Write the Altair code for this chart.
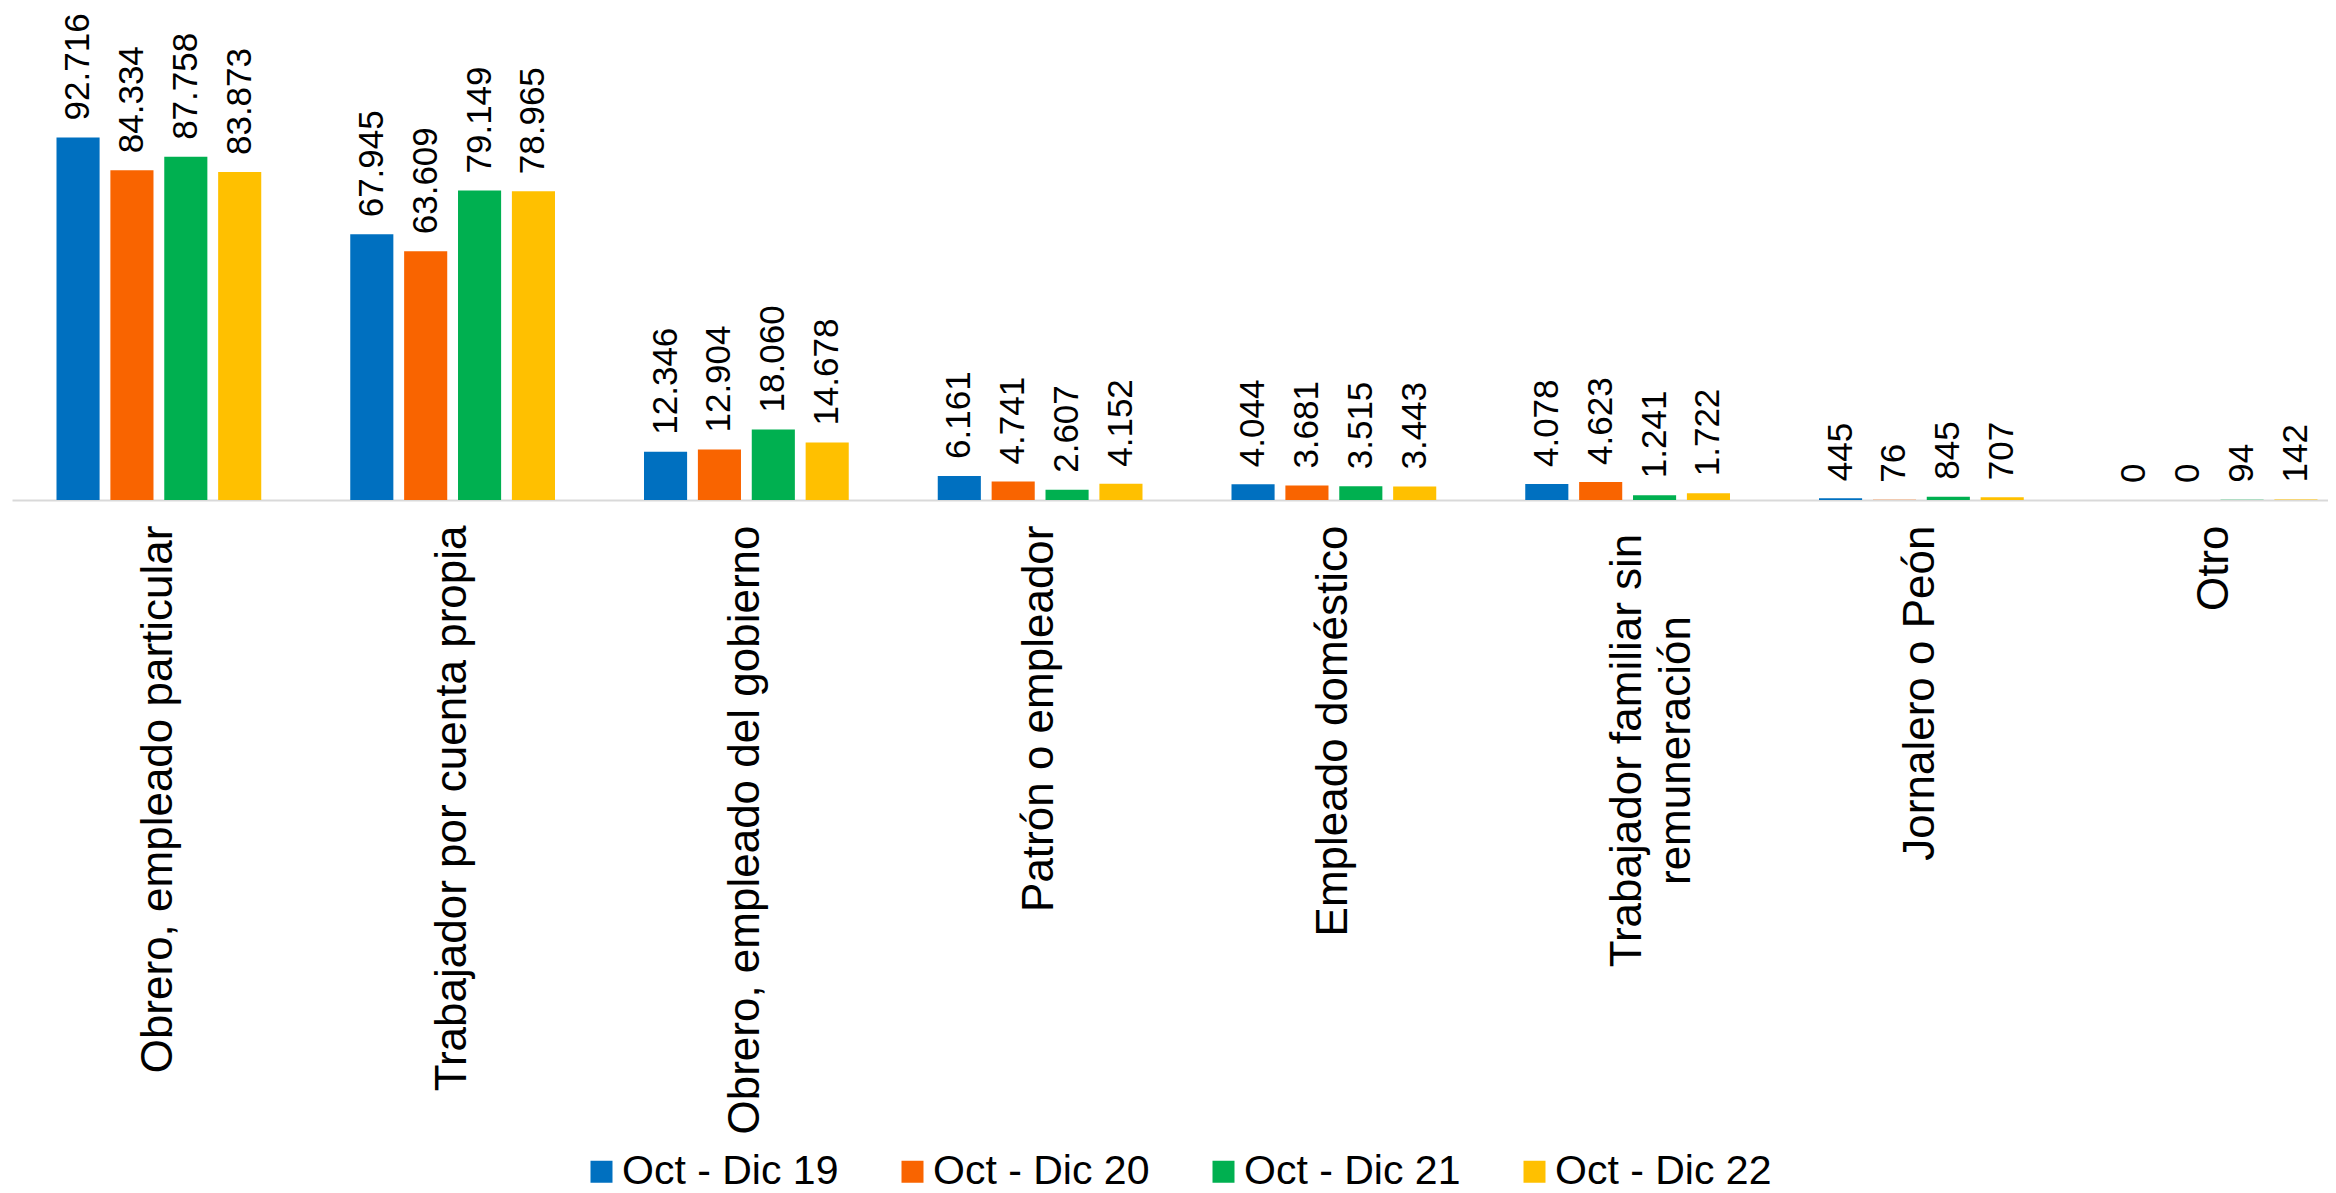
import altair as alt
import pandas as pd

categories = [
    "Obrero, empleado particular",
    "Trabajador por cuenta propia",
    "Obrero, empleado del gobierno",
    "Patrón o empleador",
    "Empleado doméstico",
    "Trabajador familiar sin remuneración",
    "Jornalero o Peón",
    "Otro",
]
periods = ["Oct - Dic 19", "Oct - Dic 20", "Oct - Dic 21", "Oct - Dic 22"]
v19 = [92716, 67945, 12346, 6161, 4044, 4078, 445, 0]
v20 = [84334, 63609, 12904, 4741, 3681, 4623, 76, 0]
v21 = [87758, 79149, 18060, 2607, 3515, 1241, 845, 94]
v22 = [83873, 78965, 14678, 4152, 3443, 1722, 707, 142]
colors = ["#0070C0", "#F96400", "#00B050", "#FFC000"]

rows = []
for p, vals in zip(periods, [v19, v20, v21, v22]):
    for c, v in zip(categories, vals):
        rows.append({"cat": c, "period": p, "value": v})
df = pd.DataFrame(rows)

two_line = "Trabajador familiar sin remuneración"
test_two = f"datum.value == '{two_line}'"

x_enc = alt.X(
    "cat:N",
    sort=categories,
    title=None,
    scale=alt.Scale(range=[0, 2350], paddingInner=0.303, paddingOuter=0.1515),
    axis=alt.Axis(
        labelAngle=-90,
        labelFont="Liberation Sans",
        labelFontSize=44,
        labelColor="#000000",
        labelAlign={"condition": {"test": test_two, "value": "center"}, "value": "right"},
        labelPadding={"condition": {"test": test_two, "value": 250}, "value": 25},
        labelBaseline="middle",
        labelLineHeight=49,
        labelLimit=2000,
        labelOverlap=False,
        labelExpr=f"{test_two} ? ['Trabajador familiar sin', 'remuneración'] : datum.label",
        ticks=False,
        grid=False,
        domainColor="#D9D9D9",
        domainWidth=2,
    ),
)
xo_enc = alt.XOffset("period:N", sort=periods, scale=alt.Scale(paddingInner=0.2, paddingOuter=0))
y_enc = alt.Y("value:Q", scale=alt.Scale(domain=[0, 124800]), axis=None)

base = alt.Chart(df).transform_calculate(
    label="replace(format(datum.value, ','), /,/g, '.')"
)

bars = base.mark_bar().encode(
    x=x_enc,
    xOffset=xo_enc,
    y=y_enc,
    color=alt.Color(
        "period:N",
        sort=periods,
        scale=alt.Scale(domain=periods, range=colors),
        legend=alt.Legend(
            title=None,
            orient="none",
            legendX=569,
            legendY=1139,
            direction="horizontal",
            columns=4,
            symbolType="square",
            symbolSize=484,
            symbolStrokeWidth=0,
            labelFont="Liberation Sans",
            labelFontSize=41,
            labelColor="#000000",
            labelOffset=0,
            columnPadding=53,
            padding=0,
            labelLimit=1000,
        ),
    ),
)

labels = base.mark_text(
    angle=270,
    align="left",
    baseline="middle",
    dx=17,
    font="Liberation Sans",
    fontSize=35,
    color="#000000",
).encode(x=x_enc, xOffset=xo_enc, y=y_enc, text="label:N")

chart = (
    alt.layer(bars, labels)
    .properties(
        width=2316,
        height=488,
        padding={"left": 4, "top": 4, "right": 0, "bottom": 693},
        autosize=alt.AutoSizeParams(type="none"),
    )
    .configure_view(stroke=None)
)

chart.save("out.html", embed_options={"renderer": "svg", "actions": False})
